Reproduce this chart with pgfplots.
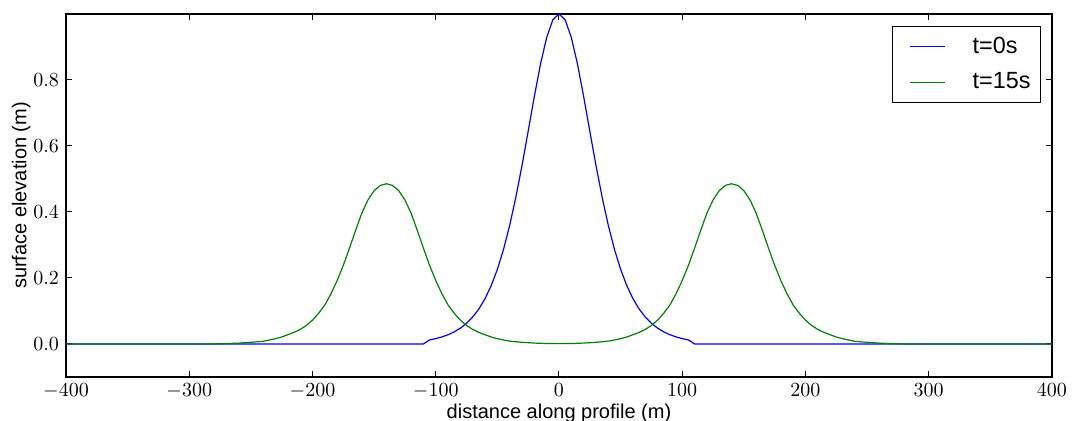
\documentclass[border=0pt]{standalone}
\usepackage{fontspec}
\setmainfont{Liberation Sans}
\usepackage{pgfplots}
\pgfplotsset{compat=1.18}
\definecolor{mblue}{RGB}{0,0,255}
\definecolor{mgreen}{RGB}{0,128,0}
\begin{document}
\begin{tikzpicture}
\useasboundingbox (-33pt,-22pt) rectangle (503pt,188.5pt);
\begin{axis}[
  at={(0,0)}, anchor=south west,
  scale only axis, width=493pt, height=181.5pt,
  xmin=-400, xmax=400, ymin=-0.1, ymax=0.999,
  xtick={-400,-300,...,400}, ytick={0,0.2,0.4,0.6,0.8},
  minor tick num=0,
  tick align=inside, major tick length=2.8pt,
  tick style={black, line width=0.5pt},
  yticklabel style={/pgf/number format/.cd, fixed, fixed zerofill, precision=1},
  xticklabel style={/pgf/number format/.cd, fixed},
  xlabel={distance along profile (m)}, ylabel={surface elevation (m)},
  xlabel style={at={(axis description cs:0.5,-0.0562)}, anchor=north},
  ylabel style={at={(axis description cs:-0.0288,0.5)}, anchor=south},
  axis line style={line width=0.6pt},
  legend image code/.code={\path (0,0); \draw[#1] (3.5pt,0pt) -- (21pt,0pt);},
  legend style={at={(1,1)}, anchor=north east, xshift=-5.5pt, yshift=-5.85pt,
    font=\fontsize{11.7}{14}\selectfont, draw=black,
    inner xsep=5pt, inner ysep=5.3pt, row sep=8.3pt,
    nodes={inner sep=0pt},
    /tikz/every odd column/.append style={column sep=13.3pt}},
  legend cell align=left,
]
\addplot[mblue, line width=0.6pt, forget plot] coordinates {
(-400,0) (-110,0) (-105,0.0123) (-100,0.0162) (-95,0.0213) (-90,0.0279) (-85,0.0366)
(-80,0.0479) (-75,0.0626) (-70,0.0816) (-65,0.1060) (-60,0.1372) (-55,0.1767)
(-50,0.2259) (-45,0.2864) (-40,0.3592) (-35,0.4444) (-30,0.5406) (-25,0.6443)
(-20,0.7495) (-15,0.8474) (-10,0.9280) (-5,0.9813) (0,0.999)
(5,0.9813) (10,0.9280) (15,0.8474) (20,0.7495) (25,0.6443) (30,0.5406) (35,0.4444)
(40,0.3592) (45,0.2864) (50,0.2259) (55,0.1767) (60,0.1372) (65,0.1060) (70,0.0816)
(75,0.0626) (80,0.0479) (85,0.0366) (90,0.0279) (95,0.0213) (100,0.0162) (105,0.0123)
(110,0) (400,0)
};
\addplot[mgreen, line width=0.6pt, forget plot] coordinates {
(-400,0) (-290,0) (-280,0.0002) (-270,0.001) (-260,0.0025) (-250,0.005) (-240,0.008)
(-235,0.012) (-230,0.016) (-225,0.021) (-220,0.028) (-215,0.035) (-210,0.044)
(-205,0.056) (-200,0.072) (-195,0.093) (-190,0.118) (-185,0.152) (-180,0.192)
(-175,0.238) (-170,0.290) (-165,0.344) (-160,0.396) (-155,0.436) (-150,0.464)
(-145,0.480) (-140,0.485) (-135,0.480) (-130,0.464) (-125,0.436) (-120,0.396)
(-115,0.344) (-110,0.290) (-105,0.238) (-100,0.192) (-95,0.152) (-90,0.118)
(-85,0.093) (-80,0.072) (-75,0.056) (-70,0.044) (-65,0.035) (-60,0.028) (-55,0.021)
(-50,0.016) (-45,0.012) (-40,0.0085) (-30,0.005) (-20,0.0027) (-10,0.0013) (0,0.001)
(10,0.0013) (20,0.0027) (30,0.005) (40,0.0085) (45,0.012) (50,0.016) (55,0.021)
(60,0.028) (65,0.035) (70,0.044) (75,0.056) (80,0.072) (85,0.093) (90,0.118)
(95,0.152) (100,0.192) (105,0.238) (110,0.290) (115,0.344) (120,0.396) (125,0.436)
(130,0.464) (135,0.480) (140,0.485) (145,0.480) (150,0.464) (155,0.436) (160,0.396)
(165,0.344) (170,0.290) (175,0.238) (180,0.192) (185,0.152) (190,0.118) (195,0.093)
(200,0.072) (205,0.056) (210,0.044) (215,0.035) (220,0.028) (225,0.021) (230,0.016)
(235,0.012) (240,0.008) (250,0.005) (260,0.0025) (270,0.001) (280,0.0002) (290,0) (400,0)
};
\addlegendimage{mblue, line width=0.6pt}
\addlegendentry{t=0s}
\addlegendimage{mgreen, line width=0.6pt}
\addlegendentry{t=15s}
\end{axis}
\end{tikzpicture}
\end{document}
